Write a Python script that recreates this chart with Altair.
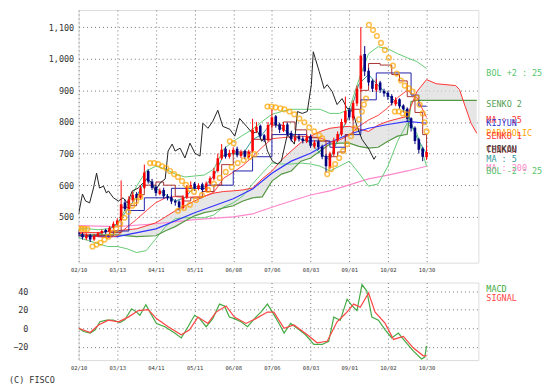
import altair as alt
import pandas as pd

# ---------------- axes ----------------
tick_days = [0, 20, 40, 60, 80, 100, 120, 140, 160, 180]
tick_labels = ["02/10", "03/13", "04/11", "05/11", "06/08", "07/06", "08/03", "09/01", "10/02", "10/30"]
price_ticks = [500, 600, 700, 800, 900, 1000, 1100]
macd_ticks = [-20, 0, 20, 40]

# ---------------- candles (trading-day index) ----------------
candle_day = list(range(0, 181, 2))
candle_open = [450, 445, 432, 442, 428, 440, 448, 458, 452, 465,
               476, 490, 545, 525, 552, 572, 560, 592, 645, 612,
               595, 572, 585, 565, 562, 550, 548, 528, 562, 592,
               605, 588, 603, 582, 605, 620, 645, 685, 715, 690,
               700, 715, 692, 708, 688, 708, 772, 788, 758, 742,
               790, 818, 792, 772, 792, 765, 742, 755, 748, 738,
               755, 722, 738, 722, 692, 655, 698, 742, 760, 798,
               838, 812, 858, 905, 1015, 962, 930, 902, 925, 898,
               892, 882, 856, 872, 852, 842, 812, 782, 745, 715,
               688]
candle_close = [445, 435, 440, 428, 440, 448, 455, 452, 465, 478,
                488, 540, 525, 555, 570, 560, 590, 640, 612, 592,
                575, 582, 565, 560, 548, 545, 530, 560, 595, 600,
                590, 600, 585, 605, 622, 645, 685, 712, 690, 702,
                712, 695, 705, 690, 705, 775, 785, 755, 745, 790,
                815, 790, 775, 790, 762, 745, 752, 745, 740, 752,
                725, 735, 720, 690, 660, 700, 740, 762, 800, 835,
                815, 860, 905, 1010, 960, 925, 905, 920, 900, 890,
                880, 860, 870, 850, 840, 810, 780, 740, 712, 690,
                705]
candle_high = [458, 450, 448, 446, 446, 452, 460, 462, 470, 485,
               495, 615, 555, 565, 580, 578, 600, 665, 650, 620,
               600, 590, 592, 572, 568, 556, 552, 568, 600, 612,
               610, 606, 608, 612, 628, 655, 700, 730, 722, 712,
               720, 722, 712, 712, 712, 810, 800, 792, 762, 800,
               840, 822, 798, 800, 798, 772, 760, 762, 755, 760,
               760, 742, 742, 728, 698, 706, 750, 770, 810, 880,
               845, 868, 915, 1100, 1040, 970, 935, 935, 930, 905,
               898, 888, 878, 875, 856, 846, 815, 786, 750, 720,
               722]
candle_low = [438, 428, 426, 420, 424, 436, 444, 446, 448, 460,
              472, 486, 518, 520, 548, 552, 555, 588, 605, 585,
              565, 568, 558, 552, 540, 535, 520, 524, 556, 588,
              582, 584, 578, 578, 600, 615, 640, 680, 684, 684,
              695, 688, 686, 682, 684, 704, 765, 748, 736, 738,
              782, 782, 765, 768, 755, 738, 738, 738, 732, 733,
              718, 716, 712, 682, 640, 650, 692, 736, 755, 792,
              805, 805, 850, 895, 945, 915, 895, 895, 892, 880,
              870, 852, 850, 842, 830, 800, 770, 730, 700, 676,
              680]

# ---------------- indicator lines ----------------
chikou_day = [0, 2, 3.6, 5.7, 7.7, 9.3, 10.8, 12.9, 14.4, 15.4,
              18, 20.6, 23, 25.2, 27.8, 30.9, 32.9, 35.5, 38, 39.6,
              42.2, 44.8, 46.3, 48.4, 49.9, 52.5, 55, 57.6, 60.2, 62.8,
              64.3, 66.9, 69.4, 72, 74.6, 78.2, 80.8, 83.3, 86.9, 90,
              92.6, 94.7, 96.2, 97.7, 100.3, 102.9, 104.9, 108, 111.6, 113.2,
              115.7, 118.3, 120.4, 121.4, 124.5, 127, 128.6, 131.2, 133.7, 136.3,
              138.9, 141, 142.5, 144, 146.6, 150.2, 152.8, 153.8]
chikou_val = [509, 572, 550, 544, 591, 638, 591, 597, 575, 582,
              560, 550, 560, 544, 582, 591, 604, 620, 607, 582,
              607, 620, 708, 730, 708, 717, 686, 733, 701, 692,
              796, 780, 802, 837, 786, 777, 755, 811, 786, 764,
              770, 739, 748, 708, 676, 667, 676, 761, 730, 833,
              827, 833, 918, 1022, 959, 906, 918, 896, 855, 874,
              843, 840, 818, 786, 745, 714, 682, 692]

band_day = list(range(0, 181, 5))
bol_up = [462, 462, 459, 462, 475, 535, 597, 645, 660, 651,
          635, 626, 629, 632, 651, 714, 739, 758, 777, 802,
          824, 833, 840, 840, 840, 840, 827, 827, 840, 934,
          1016, 1038, 1031, 1016, 1003, 991, 969]
bol_lo = [434, 425, 415, 406, 406, 399, 387, 393, 431, 469,
          494, 497, 497, 497, 506, 531, 544, 566, 604, 638,
          670, 667, 667, 670, 667, 660, 645, 660, 676, 638,
          597, 604, 660, 739, 796, 764, 660]
ma25 = [448, 443, 437, 434, 440, 467, 492, 519, 545, 560,
        564, 561, 563, 564, 578, 622, 641, 662, 690, 720,
        747, 750, 753, 755, 753, 750, 736, 743, 758, 786,
        806, 821, 845, 877, 900, 877, 814]
ma5 = [445, 437, 445, 455, 480, 520, 565, 620, 590, 570,
       550, 560, 595, 595, 630, 695, 700, 698, 745, 760,
       800, 780, 760, 745, 735, 700, 680, 760, 820, 920,
       950, 915, 885, 860, 830, 750, 700]

ma75_day = [0, 20, 40, 60, 80, 90, 100, 110, 120, 130, 140, 150, 160, 170, 180]
ma75 = [440, 437, 462, 513, 557, 588, 638, 676, 701, 736, 761, 780, 792, 802, 796]
ma200_day = [0, 20, 40, 60, 80, 90, 100, 110, 120, 130, 140, 150, 160, 170, 180]
ma200 = [472, 469, 478, 491, 500, 509, 530, 550, 569, 582, 601, 620, 632, 645, 660]

kijun_day = [0, 18, 26, 34, 48, 66, 80, 90, 100, 118, 130, 138, 146, 154, 172, 176, 180]
kijun = [440, 455, 520, 560, 590, 600, 645, 690, 760, 740, 720, 760, 870, 955, 885, 850, 850]

tenkan_day = [0, 10, 16, 22, 26, 30, 34, 40, 44, 50,
              54, 58, 64, 70, 74, 80, 86, 90, 94, 100,
              106, 112, 118, 124, 128, 134, 138, 142, 146, 150,
              156, 162, 166, 170, 174, 178, 180]
tenkan = [440, 440, 450, 530, 535, 570, 600, 610, 600, 565,
          550, 560, 580, 600, 665, 705, 705, 745, 745, 790,
          800, 775, 750, 740, 690, 705, 760, 840, 900, 985,
          980, 950, 930, 880, 830, 760, 720]

senko_day = [0, 10, 20, 30, 40, 45, 50, 55, 60, 65, 70, 75, 80, 85, 90, 95, 100, 105, 110, 115,
             120, 125, 130, 135, 140, 145, 150, 155, 160, 165, 170, 172, 175, 180, 185, 190, 195, 197,
             200, 203, 206]
senko1 = [450, 450, 456, 462, 481, 500, 519, 535, 550, 565, 575, 580, 582, 585, 591, 620, 645, 680, 708, 735,
          755, 770, 780, 784, 786, 778, 770, 790, 802, 810, 818, 850, 896, 934, 921, 918, 915, 903,
          849, 796, 764]
senko2 = [443, 443, 443, 437, 440, 456, 469, 487, 503, 513, 519, 528, 535, 550, 560, 563, 613, 635, 645, 676,
          686, 708, 730, 733, 733, 723, 717, 720, 739, 755, 761, 865, 868, 868, 868, 868, 868, 868,
          868, 868, 868]

sar_day = [0, 1.5, 3, 4.5,
           7.2, 9.3, 11.3, 13.4, 15.4, 17.5, 19.5, 21.6, 23.7, 25.7, 27.8, 29.8, 31.9,
           37, 39.1, 41.2, 43.2, 45.3, 47.3, 49.4, 51.4, 53.5, 55.6, 57.6, 59.7,
           51.4, 54.5, 57.6, 60.7, 63.8, 66.9, 70, 73, 76.1, 79.2, 82.3, 85.4, 88.5, 91,
           78.2, 80.2,
           97.7, 99.8, 101.9, 104.4, 106.5, 109.1, 111.6, 114.2, 116.8, 119.3, 121.9, 124.5, 126,
           128.6, 130.7, 132.7, 134.8, 136.8, 138.9, 140.9, 143, 145.1, 146.6, 147.6, 148.7,
           150.2, 152.3, 154.3, 156.4, 158.4, 160.5, 162.6, 164.6, 166.7, 168.7, 170.8,
           163.6, 165.6, 167.7, 169.8,
           172.8, 174.9, 176.4, 178, 179, 180]
sar_val = [463, 462, 462, 461,
           406, 412, 418, 428, 437, 450, 462, 478, 497, 516, 535, 550, 563,
           670, 670, 667, 660, 654, 645, 635, 626, 613, 601, 588, 579,
           519, 528, 538, 553, 569, 585, 604, 623, 642, 657, 670, 679, 689, 698,
           739, 733,
           849, 849, 846, 843, 840, 833, 824, 811, 799, 783, 770, 758, 748,
           635, 651, 667, 686, 708, 730, 755, 780, 808, 833, 855, 874,
           1107, 1091, 1072, 1050, 1028, 1003, 978, 953, 931, 915, 906,
           833, 833, 827, 824,
           896, 877, 855, 827, 799, 770]

macd_day = [0, 2.6, 6, 8.6, 11, 14.6, 18, 21.4, 24, 27.4,
            30, 31.7, 34.8, 36.9, 40.3, 44.6, 49.7, 53.1, 56.6, 60,
            62.6, 66, 69.4, 72.9, 75.4, 78, 80.6, 84, 87.4, 91.7,
            94.3, 97.7, 100.3, 103.7, 106.3, 109.7, 113.1, 117.4, 121.7, 126,
            129.4, 132, 135.4, 138.9, 141.4, 144, 146.6, 149.1, 151.7, 155.1,
            158.6, 162, 165.4, 168.9, 173.1, 177.4, 179.1, 180]
macd_val = [0, -3.5, -5.2, -1.7, 7, 8.7, 8.7, 6, 9.4, 21,
            17.4, 14, 25.4, 17.4, 5.2, 1.7, -5.2, -10.4, 1.7, 14,
            10.4, 1.7, 10.4, 26, 24, 12, 10.4, 7, 1.7, 12,
            17.4, 26, 17.4, 5.2, -5.2, 5.2, 0, -7, -17.4, -17.4,
            -14, 12, 8.7, 31.3, 24.3, 19, 47, 40, 12, 8.7,
            -1.7, -10.4, -5.2, -14, -24.3, -33, -31, -19]
signal_day = [0, 6, 10.3, 15.4, 20.6, 25.7, 30.9, 36, 40.3, 46.3,
              53.1, 57.4, 61.7, 66.9, 71.1, 76.3, 80.6, 86.6, 91.7, 97.7,
              101, 106.3, 111.4, 118.3, 123.4, 128.6, 133.7, 138, 142.3, 145.7,
              150, 153.4, 158.6, 162.9, 168, 173.1, 178.3, 180]
signal_val = [0, -4.5, 3.5, 8.7, 7, 12, 19, 20, 10.4, 1.7,
              -7, -1.7, 12, 5.2, 17.4, 24, 12, 5.2, 10.4, 17.4,
              17.4, 0, 3.5, -7, -15.6, -14, 7, 15.6, 26, 22.6,
              38, 17.4, 5.2, -12, -8.7, -21, -29.6, -29.6]

# ---------------- styling ----------------
FONT = "DejaVu Sans Mono"
GRID = "#777777"
TXT = "#333333"
W = 402
H_MAIN = 254
H_MACD = 78

x_scale = alt.Scale(domain=[0, 206.8], nice=False, zero=False)
y_scale = alt.Scale(domain=[355, 1154], nice=False, zero=False)
m_scale = alt.Scale(domain=[-34.2, 49.2], nice=False, zero=False)

label_expr = "[" + ",".join("'%s'" % t for t in tick_labels) + "][round(datum.value / 20)]"

x_axis = alt.Axis(values=tick_days, labelExpr=label_expr, grid=True, gridDash=[1, 3],
                  gridColor=GRID, ticks=False, domain=False, labelFont=FONT,
                  labelFontSize=5.5, labelColor=TXT, labelPadding=5, labelFlush=False,
                  labelOverlap=False, minExtent=12, maxExtent=12, title=None)
y_axis = alt.Axis(values=price_ticks, format=",.0f", grid=True, gridDash=[1, 3], gridColor=GRID,
                  ticks=False, domain=False, labelFont=FONT, labelFontSize=8.5,
                  labelColor=TXT, labelPadding=5, minExtent=70, maxExtent=70, title=None)
m_axis = alt.Axis(values=macd_ticks, format=".0f", grid=True, gridDash=[1, 3], gridColor=GRID,
                  ticks=False, domain=False, labelFont=FONT, labelFontSize=8.5,
                  labelColor=TXT, labelPadding=51, minExtent=70, maxExtent=70, title=None)


def X(f):
    return alt.X(f, type="quantitative", scale=x_scale, axis=x_axis)


def Y(f):
    return alt.Y(f, type="quantitative", scale=y_scale, axis=y_axis)


def MY(f):
    return alt.Y(f, type="quantitative", scale=m_scale, axis=m_axis)


def series(day, val, color, width=1.0, step=False):
    df = pd.DataFrame({"d": day, "v": val})
    kw = dict(color=color, strokeWidth=width, clip=True)
    if step:
        kw["interpolate"] = "step-after"
    return alt.Chart(df).mark_line(**kw).encode(x=X("d"), y=Y("v"))


def mseries(day, val, color, width=1.2):
    df = pd.DataFrame({"d": day, "v": val})
    return alt.Chart(df).mark_line(color=color, strokeWidth=width, clip=True).encode(x=X("d"), y=MY("v"))


def label(text, color, x, y):
    return alt.Chart(alt.Data(values=[{}])).mark_text(
        text=text, color=color, align="left", baseline="middle", font=FONT, fontSize=8.5
    ).encode(x=alt.value(x), y=alt.value(y))


cloud_df = pd.DataFrame({"d": senko_day, "s1": senko1, "s2": senko2})
cloud = alt.Chart(cloud_df).mark_area(color="#dcdcdc", opacity=0.7, clip=True).encode(
    x=X("d"), y=Y("s1"), y2="s2")

cdf = pd.DataFrame({"day": candle_day, "open": candle_open, "close": candle_close,
                    "high": candle_high, "low": candle_low})
ccol = alt.condition("datum.close >= datum.open", alt.value("#ff0000"), alt.value("#000080"))
wick = alt.Chart(cdf).mark_rule(strokeWidth=1, clip=True).encode(x=X("day"), y=Y("low"), y2="high", color=ccol)
body = alt.Chart(cdf).mark_rule(strokeWidth=2.6, clip=True).encode(x=X("day"), y=Y("open"), y2="close", color=ccol)

sar = alt.Chart(pd.DataFrame({"d": sar_day, "v": sar_val})).mark_point(
    shape="circle", filled=False, color="#ffa500", size=22, strokeWidth=1.5, clip=True
).encode(x=X("d"), y=Y("v"))

main = alt.layer(
    cloud,
    series(ma200_day, ma200, "#ff88cc", 1.2),
    series(band_day, bol_up, "#66cc77", 1.0),
    series(band_day, bol_lo, "#66cc77", 1.0),
    series(senko_day, senko2, "#559944", 1.2),
    series(senko_day, senko1, "#ff3333", 1.0),
    series(ma75_day, ma75, "#3333ff", 1.2),
    series(band_day, ma25, "#ff4444", 1.0),
    series(kijun_day, kijun, "#2222aa", 1.0, step=True),
    series(tenkan_day, tenkan, "#aa3333", 1.0, step=True),
    series(chikou_day, chikou_val, "#222222", 1.0),
    series(band_day, ma5, "#339999", 1.0),
    wick, body, sar,
    label("BOL +2 : 25", "#55c46a", 410, 63),
    label("SENKO 2", "#55a055", 410, 94),
    label("MA : 25", "#ff3333", 410, 111),
    label("KIJYUN", "#3333cc", 410, 114),
    label("PARABOLIC", "#ffa500", 410, 124),
    label("SENKO 1", "#ff3333", 410, 127),
    label("TENKAN", "#993333", 410, 141),
    label("CHIKOU", "#333333", 410, 140),
    label("MA : 5", "#339999", 410, 150),
    label("MA : 200", "#ff88cc", 410, 159),
    label("BOL -2 : 25", "#55c46a", 410, 162),
).properties(width=W, height=H_MAIN)

macd = alt.layer(
    mseries(macd_day, macd_val, "#44aa44"),
    mseries(signal_day, signal_val, "#ff4444"),
    label("MACD", "#44aa44", 410, 7),
    label("SIGNAL", "#ff4444", 410, 16),
    label("(C) FISCO", TXT, -70, 98),
).properties(width=W, height=H_MACD)

chart = alt.vconcat(main, macd, spacing=6).properties(padding=0).configure_view(
    stroke=None).configure(background="white")

chart.save("out.html", embed_options={"renderer": "svg", "actions": False})
